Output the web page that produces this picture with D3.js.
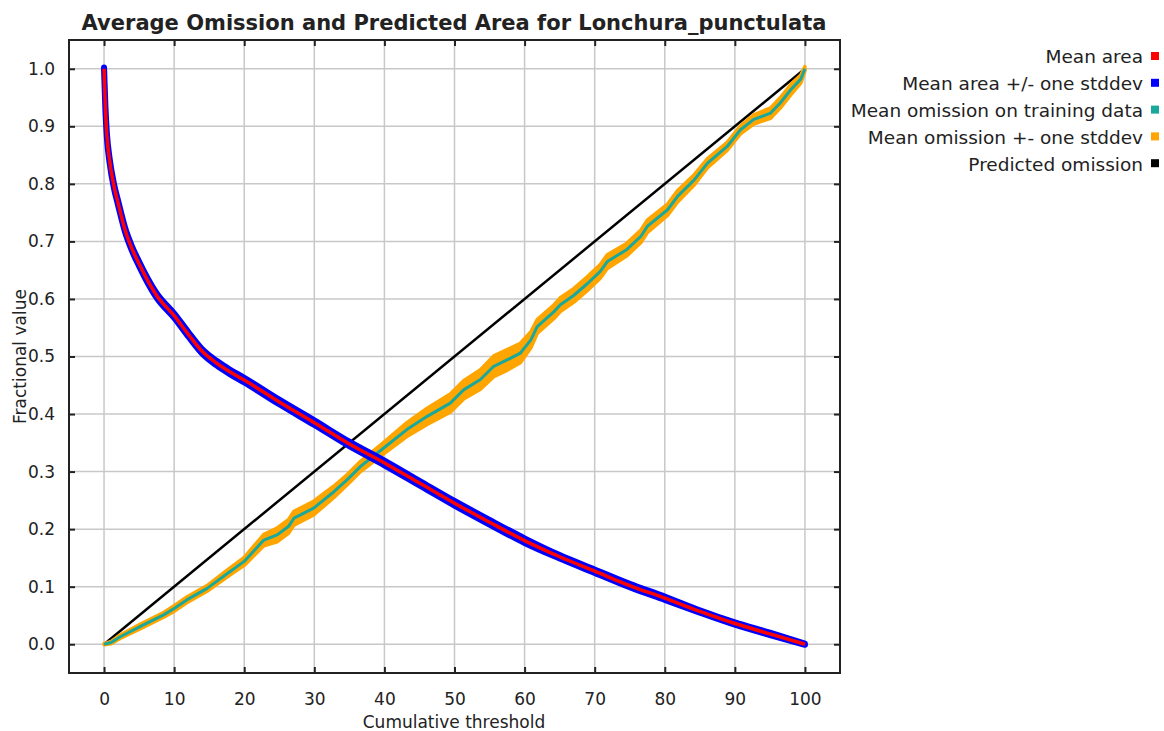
<!DOCTYPE html>
<html>
<head>
<meta charset="utf-8">
<script src="https://cdn.jsdelivr.net/npm/d3@7"></script>
<style>
  html, body { margin: 0; padding: 0; background: #fff; }
  svg { display: block; }
  text { font-family: "DejaVu Sans", sans-serif; fill: #222; }
</style>
</head>
<body>
<svg id="chart" width="1164" height="731"></svg>
<script>
// Cumulative threshold values for the mean predicted area
const areaThreshold = [0, 0.2, 0.4, 0.8, 1.4, 2, 3, 4, 5, 6, 7.5, 10, 12, 14, 16, 18, 20, 25, 30, 35, 40, 45, 50, 55, 60, 65, 70, 75, 80, 85, 90, 95, 100];
const meanArea      = [1.0, 0.93, 0.885, 0.84, 0.797, 0.767, 0.72, 0.687, 0.661, 0.637, 0.606, 0.571, 0.539, 0.509, 0.489, 0.473, 0.459, 0.421, 0.385, 0.348, 0.315, 0.28, 0.245, 0.212, 0.18, 0.152, 0.127, 0.102, 0.08, 0.057, 0.036, 0.018, 0.0];
const areaStddev    = [0.002, 0.004, 0.004, 0.004, 0.004, 0.004, 0.004, 0.004, 0.004, 0.004, 0.004, 0.004, 0.004, 0.004, 0.004, 0.004, 0.004, 0.004, 0.004, 0.004, 0.004, 0.004, 0.004, 0.004, 0.004, 0.003, 0.003, 0.003, 0.003, 0.002, 0.002, 0.002, 0.001];

// Mean omission on training data and its standard deviation
const omissionThreshold = [0, 1, 2.3, 5.2, 8.5, 10, 11.8, 14.7, 17.6, 20, 22.8, 24.7, 26.3, 27.1, 29.9, 32.8, 34.7, 36.6, 39.9, 43.2, 46.1, 49.4, 51.3, 53.7, 55.6, 57.5, 59.4, 60.9, 61.8, 64.2, 65.1, 67, 68.9, 70.8, 71.8, 74.6, 76.6, 77.5, 80.4, 81.8, 84.2, 86.1, 88.9, 90.8, 92.7, 95.1, 96.5, 98, 99.4, 100];
const meanOmission      = [0, 0.003, 0.013, 0.031, 0.051, 0.062, 0.077, 0.097, 0.123, 0.144, 0.181, 0.19, 0.2045, 0.219, 0.2365, 0.265, 0.286, 0.309, 0.341, 0.373, 0.396, 0.419, 0.442, 0.46, 0.483, 0.494, 0.506, 0.529, 0.552, 0.578, 0.59, 0.606, 0.626, 0.648, 0.665, 0.686, 0.709, 0.726, 0.755, 0.778, 0.807, 0.836, 0.865, 0.894, 0.912, 0.923, 0.941, 0.964, 0.982, 1.0];
const omissionStddev    = [0.001, 0.002, 0.003, 0.004, 0.004, 0.005, 0.005, 0.005, 0.006, 0.007, 0.01, 0.012, 0.012, 0.012, 0.012, 0.01, 0.009, 0.009, 0.01, 0.012, 0.014, 0.016, 0.016, 0.017, 0.018, 0.018, 0.017, 0.014, 0.012, 0.012, 0.012, 0.012, 0.012, 0.012, 0.012, 0.011, 0.011, 0.011, 0.01, 0.01, 0.009, 0.008, 0.007, 0.007, 0.008, 0.009, 0.009, 0.009, 0.007, 0.004];

// Predicted omission (straight diagonal)
const predictedThreshold = [0, 100];
const predictedOmission  = [0, 1];

const xTicks = [0, 10, 20, 30, 40, 50, 60, 70, 80, 90, 100];
const yTicks = [0.0, 0.1, 0.2, 0.3, 0.4, 0.5, 0.6, 0.7, 0.8, 0.9, 1.0];

const legendItems = [
  { label: "Mean area", color: "#ff0000" },
  { label: "Mean area +/- one stddev", color: "#0000ff" },
  { label: "Mean omission on training data", color: "#1aa89a" },
  { label: "Mean omission +- one stddev", color: "#ffa500" },
  { label: "Predicted omission", color: "#000000" }
];

const svg = d3.select("#chart");
const plot = { left: 69, right: 840, top: 40, bottom: 673 };

const x = d3.scaleLinear().domain([-5, 105]).range([plot.left, plot.right]);
const y = d3.scaleLinear().domain([-0.05, 1.05]).range([plot.bottom, plot.top]);

// Grid lines
const grid = svg.append("g").attr("stroke", "#c8c8c8").attr("stroke-width", 1.5);
grid.selectAll("line.gx").data(xTicks).join("line")
  .attr("x1", d => x(d)).attr("x2", d => x(d))
  .attr("y1", plot.top).attr("y2", plot.bottom);
grid.selectAll("line.gy").data(yTicks).join("line")
  .attr("y1", d => y(d)).attr("y2", d => y(d))
  .attr("x1", plot.left).attr("x2", plot.right);

svg.append("clipPath").attr("id", "plotClip")
  .append("rect").attr("x", plot.left).attr("y", plot.top)
  .attr("width", plot.right - plot.left).attr("height", plot.bottom - plot.top);
const g = svg.append("g").attr("clip-path", "url(#plotClip)");

const zip = (xs, ys) => xs.map((t, i) => [t, ys[i]]);
const line = d3.line().x(d => x(d[0])).y(d => y(d[1]));
const smoothLine = d3.line().curve(d3.curveMonotoneX).x(d => x(d[0])).y(d => y(d[1]));

// Predicted omission
g.append("path").datum(zip(predictedThreshold, predictedOmission))
  .attr("d", line).attr("fill", "none").attr("stroke", "#000").attr("stroke-width", 2.5);

// Omission +/- stddev band
const omBand = omissionThreshold.map((t, i) => ({ t, lo: meanOmission[i] - omissionStddev[i], hi: meanOmission[i] + omissionStddev[i] }));
g.append("path").datum(omBand)
  .attr("d", d3.area().x(d => x(d.t)).y0(d => y(d.lo)).y1(d => y(d.hi)))
  .attr("fill", "#ffa500").attr("stroke", "#ffa500").attr("stroke-width", 3.5).attr("stroke-linejoin", "round");

// Mean omission
g.append("path").datum(zip(omissionThreshold, meanOmission))
  .attr("d", line).attr("fill", "none").attr("stroke", "#1aa89a").attr("stroke-width", 3).attr("stroke-linejoin", "round");

// Area +/- stddev band
const arBand = areaThreshold.map((t, i) => ({ t, lo: meanArea[i] - areaStddev[i], hi: meanArea[i] + areaStddev[i] }));
g.append("path").datum(arBand)
  .attr("d", d3.area().curve(d3.curveMonotoneX).x(d => x(d.t)).y0(d => y(d.lo)).y1(d => y(d.hi)))
  .attr("fill", "#0000ff").attr("stroke", "#0000ff").attr("stroke-width", 6).attr("stroke-linejoin", "round");

// Mean area
g.append("path").datum(zip(areaThreshold, meanArea))
  .attr("d", smoothLine).attr("fill", "none").attr("stroke", "#ff0000").attr("stroke-width", 3.5).attr("stroke-linejoin", "round");

// Frame
svg.append("rect").attr("x", plot.left).attr("y", plot.top)
  .attr("width", plot.right - plot.left).attr("height", plot.bottom - plot.top)
  .attr("fill", "none").attr("stroke", "#222").attr("stroke-width", 2);

// Axes with inward ticks
const fmtY = d3.format(".1f");
function styleAxis(sel) {
  sel.select(".domain").remove();
  sel.selectAll(".tick line").attr("stroke", "#222").attr("stroke-width", 2);
  sel.selectAll(".tick text").style("font-family", "DejaVu Sans, sans-serif").style("font-size", "17px").attr("fill", "#222");
}
svg.append("g").attr("transform", `translate(0,${plot.bottom})`)
  .call(d3.axisBottom(x).tickValues(xTicks).tickSizeInner(-6).tickSizeOuter(0).tickPadding(20))
  .call(styleAxis);
svg.append("g").attr("transform", `translate(0,${plot.top})`)
  .call(d3.axisTop(x).tickValues(xTicks).tickSizeInner(-6).tickSizeOuter(0).tickFormat(""))
  .call(styleAxis);
svg.append("g").attr("transform", `translate(${plot.left},0)`)
  .call(d3.axisLeft(y).tickValues(yTicks).tickFormat(fmtY).tickSizeInner(-6).tickSizeOuter(0).tickPadding(14))
  .call(styleAxis);
svg.append("g").attr("transform", `translate(${plot.right},0)`)
  .call(d3.axisRight(y).tickValues(yTicks).tickSizeInner(-6).tickSizeOuter(0).tickFormat(""))
  .call(styleAxis);

// Title and axis titles
svg.append("text").attr("x", 454).attr("y", 30).attr("text-anchor", "middle")
  .style("font-size", "21px").style("font-weight", "bold").attr("fill", "#111")
  .text("Average Omission and Predicted Area for Lonchura_punctulata");
svg.append("text").attr("x", 454).attr("y", 728).attr("text-anchor", "middle")
  .style("font-size", "17px").text("Cumulative threshold");
svg.append("text").attr("transform", `translate(26,${(plot.top + plot.bottom) / 2}) rotate(-90)`)
  .attr("text-anchor", "middle").style("font-size", "17px").text("Fractional value");

// Legend
const legend = svg.append("g");
legendItems.forEach((item, i) => {
  const cy = 57 + i * 26.8;
  legend.append("text").attr("x", 1143).attr("y", cy).attr("dy", "0.35em")
    .attr("text-anchor", "end").style("font-size", "18.5px").text(item.label);
  legend.append("rect").attr("x", 1151).attr("y", cy - 5).attr("width", 8).attr("height", 8)
    .attr("fill", item.color);
});
</script>
</body>
</html>
